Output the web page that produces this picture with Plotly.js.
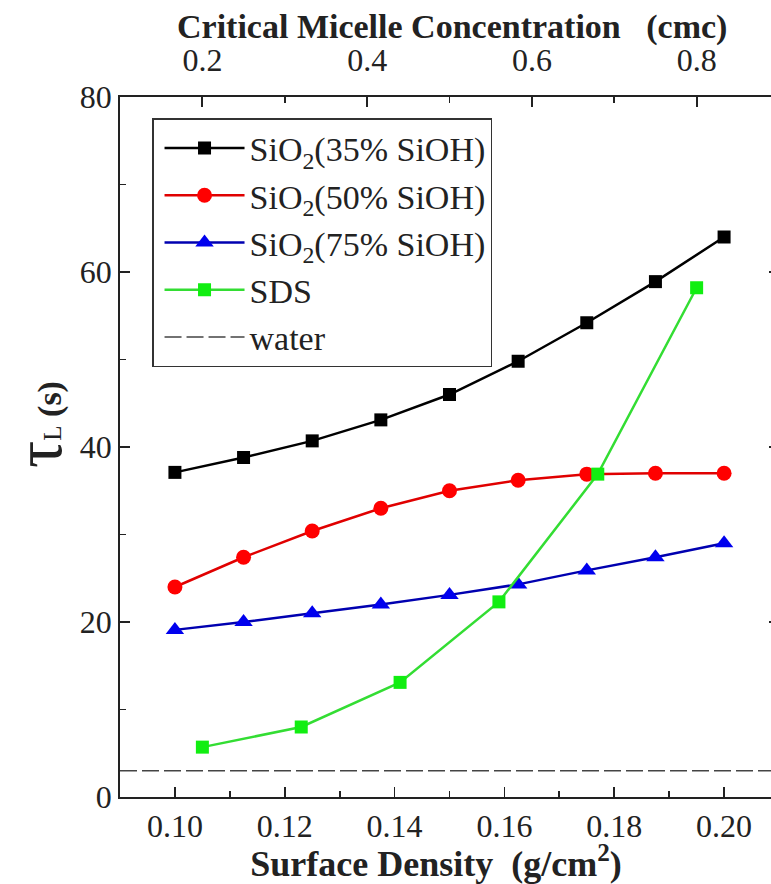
<!DOCTYPE html>
<html>
<head>
<meta charset="utf-8">
<script src="https://cdn.plot.ly/plotly-3.0.1.min.js"></script>
<style>
html,body{margin:0;padding:0;overflow:hidden;background:#fff;}
#chart{width:780px;height:884px;}
</style>
</head>
<body>
<div id="chart"></div>
<script>
// Surface density (g/cm^2) for the SiO2 series
const surfaceDensity = [0.100, 0.1125, 0.125, 0.1375, 0.150, 0.1625, 0.175, 0.1875, 0.200];
const sio2_35 = [37.1, 38.8, 40.7, 43.1, 46.0, 49.8, 54.2, 58.9, 64.0];
const sio2_50 = [24.0, 27.4, 30.4, 33.0, 35.0, 36.2, 36.9, 37.0, 37.0];
const sio2_75 = [19.1, 20.0, 21.0, 22.0, 23.1, 24.3, 25.9, 27.4, 29.0];
// SDS plotted against critical micelle concentration (top axis)
const sdsCmc = [0.20, 0.32, 0.44, 0.56, 0.68, 0.80];
const sdsTau = [5.7, 8.0, 13.1, 22.3, 36.9, 58.2];
// water reference level
const waterX = [0.09, 0.21];
const waterTau = [3.0, 3.0];

const bottomTicks = [0.10, 0.12, 0.14, 0.16, 0.18, 0.20];
const topTicks = [0.2, 0.4, 0.6, 0.8];
const yTicks = [0, 20, 40, 60, 80];

const serif = "Liberation Serif";

const traces = [
  {x: surfaceDensity, y: sio2_35, name: "SiO<sub>2</sub>(35% SiOH)", mode: "lines+markers",
   line: {color: "#000000", width: 2.5}, marker: {symbol: "square", size: 13, color: "#000000"}, legendgroup: "a"},
  {x: surfaceDensity, y: sio2_50, name: "SiO<sub>2</sub>(50% SiOH)", mode: "lines+markers",
   line: {color: "#e00000", width: 2.5}, marker: {symbol: "circle", size: 15, color: "#ff0000"}, legendgroup: "b"},
  {x: surfaceDensity, y: sio2_75, name: "SiO<sub>2</sub>(75% SiOH)", mode: "lines+markers",
   line: {color: "#0000b0", width: 2.5}, marker: {symbol: "triangle-up", size: 16, color: "#0000ee"}, legendgroup: "c"},
  {x: sdsCmc, y: sdsTau, name: "SDS", mode: "lines+markers", xaxis: "x2",
   line: {color: "#33dd33", width: 2.5}, marker: {symbol: "square", size: 13, color: "#11ee11"}, legendgroup: "d"},
  {x: waterX, y: waterTau, name: "water", mode: "lines",
   line: {color: "#444444", width: 1.5, dash: "17px,5px"}, legendgroup: "e"}
];

const layout = {
  width: 780, height: 884,
  margin: {l: 120, r: 1, t: 97, b: 87},
  paper_bgcolor: "#ffffff", plot_bgcolor: "#ffffff",
  font: {family: serif, color: "#222222"},
  showlegend: true,
  legend: {
    x: 0.0486, y: 0.97, xanchor: "left", yanchor: "top",
    bordercolor: "#333333", borderwidth: 1.5, bgcolor: "#ffffff",
    font: {family: serif, size: 34, color: "#222222"},
    traceorder: "grouped", tracegroupgap: 0, itemwidth: 80, indentation: 6
  },
  xaxis: {
    range: [0.09, 0.21], tickvals: bottomTicks, tickformat: ".2f",
    ticks: "inside", ticklen: 10, tickwidth: 1.8, tickcolor: "#222",
    minor: {dtick: 0.01, ticks: "inside", ticklen: 6, tickwidth: 1.8, tickcolor: "#222"},
    showline: true, linecolor: "#222", linewidth: 1.8, showgrid: false, zeroline: false,
    tickfont: {family: serif, size: 32, color: "#222"},
    title: {text: "<b>Surface Density  (g/cm<sup>2</sup>)&nbsp;&nbsp;&nbsp;</b>", font: {family: serif, size: 36, color: "#222"}, standoff: 5}
  },
  xaxis2: {
    overlaying: "x", side: "top", range: [0.1, 0.9], tickvals: topTicks, tickformat: ".1f",
    ticks: "inside", ticklen: 10, tickwidth: 1.8, tickcolor: "#222",
    minor: {dtick: 0.1, tick0: 0.1, ticks: "inside", ticklen: 6, tickwidth: 1.8, tickcolor: "#222"},
    showline: true, linecolor: "#222", linewidth: 1.8, showgrid: false, zeroline: false,
    tickfont: {family: serif, size: 32, color: "#222"}, ticklabelstandoff: 11
  },
  yaxis: {
    range: [0, 80], tickvals: yTicks,
    ticks: "inside", ticklen: 10, tickwidth: 1.8, tickcolor: "#222",
    minor: {dtick: 10, ticks: "inside", ticklen: 6, tickwidth: 1.8, tickcolor: "#222"},
    showline: true, mirror: "ticks", linecolor: "#222", linewidth: 1.8, showgrid: false, zeroline: false,
    tickfont: {family: serif, size: 32, color: "#222"}
  },
  annotations: [
    {
      text: "<b>Critical Micelle Concentration   (cmc)</b>",
      xref: "paper", yref: "paper", x: 0.504, y: 1.1, xanchor: "center", yanchor: "middle",
      showarrow: false, font: {family: serif, size: 34, color: "#222"}
    },
    {
      text: "<span style='font-size:68px'>τ</span><span style='font-size:25px'>L</span> <b>(s)</b>",
      xref: "paper", yref: "paper", x: -0.1244, y: 0.5314, xanchor: "center", yanchor: "middle",
      textangle: -90, showarrow: false, font: {family: serif, size: 34, color: "#222"}
    }
  ]
};

Plotly.newPlot("chart", traces, layout, {displayModeBar: false, staticPlot: true});
</script>
</body>
</html>
